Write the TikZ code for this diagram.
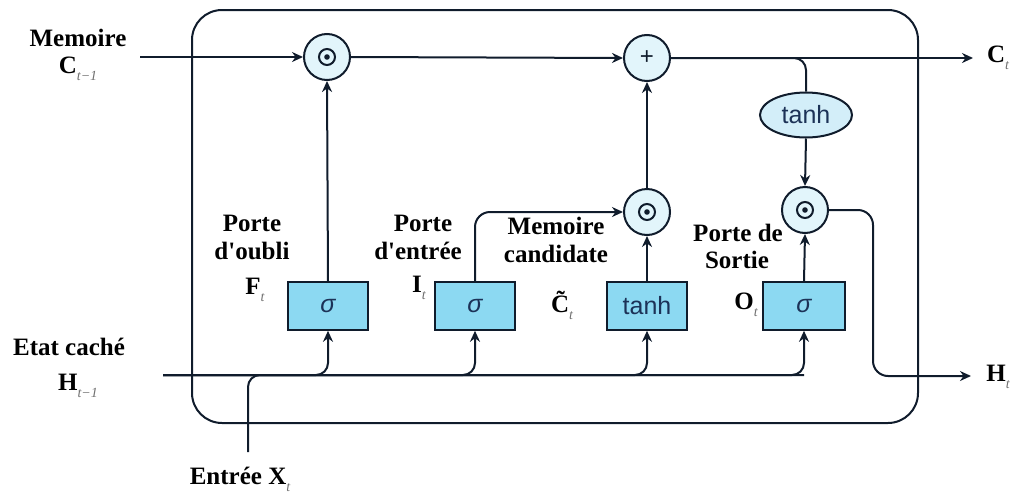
\documentclass[tikz,border=0pt]{standalone}
\usepackage{fontspec}
\setmainfont{Liberation Serif}
\newfontfamily\opfont{Liberation Sans}
\usetikzlibrary{arrows.meta,shapes.geometric}

\definecolor{boxfill}{HTML}{8CD9F2}
\definecolor{opfill}{HTML}{E2F5FB}
\definecolor{ellfill}{HTML}{D3EEF9}
\definecolor{edge}{HTML}{101C2C}
\definecolor{optext}{HTML}{1C3257}
\definecolor{subgray}{HTML}{707070}

% subscript index: small grey italic, set below the baseline
\newcommand{\idx}[1]{\raisebox{-7pt}{\fontsize{14}{14}\selectfont\mdseries\itshape\color{subgray}#1}}

\tikzset{
  wire/.style={line width=2pt, draw=edge},
  flow/.style={wire, -{Stealth[length=11pt,width=10pt]}},
  opcirc/.style={circle, draw=edge, line width=2pt, fill=opfill, minimum size=46pt, inner sep=0pt},
  gatebox/.style={rectangle, draw=edge, line width=1.6pt, fill=boxfill, minimum width=80pt, minimum height=48pt, inner sep=0pt,
    font=\opfont\fontsize{25}{25}\selectfont, text=optext},
  actell/.style={ellipse, draw=edge, line width=2pt, fill=ellfill, minimum width=92pt, minimum height=45pt, inner sep=0pt,
    font=\opfont\fontsize{25}{25}\selectfont, text=optext},
  lbl/.style={font=\fontsize{25}{28}\selectfont\bfseries, text=black, inner sep=0pt},
  frame/.style={line width=2pt, draw=edge}
}

\begin{document}
\begin{tikzpicture}[x=1pt, y=-1pt]
\useasboundingbox (0,0) rectangle (1018,501);

% cell boundary
\draw[frame, rounded corners=30pt] (192,10) rectangle (918,423);

% pointwise operators
\node[opcirc] (m1) at (327,57) {};
\node[opcirc, font=\opfont\fontsize{24}{24}\selectfont, text=edge] (add) at (647,58) {+};
\node[opcirc] (m2) at (647,212) {};
\node[opcirc] (m3) at (805,210) {};
\foreach \c in {m1,m2,m3}{
  \draw[edge, line width=2pt] (\c) circle (8pt);
  \fill[edge] (\c) circle (2.8pt);
}

% output activation
\node[actell] (th) at (806,115) {tanh};

% gates
\node[gatebox] (sf) at (328,306) {\itshape σ};
\node[gatebox] (si) at (475,306) {\itshape σ};
\node[gatebox] (sc) at (647,306) {tanh};
\node[gatebox, minimum width=82pt] (so) at (804,306) {\itshape σ};

% external ends
\coordinate (cin) at (140,57);
\coordinate (cout) at (973,58);
\coordinate (hin) at (163,375);
\coordinate (hout) at (971,376);
\coordinate (xin) at (248,452);

% cell state path
\draw[flow] (cin) -- (m1.west);
\draw[flow] (m1.east) -- (add.west);
\draw[flow] (add.east) -- (cout);
\draw[wire, rounded corners=12pt] (add.east) -| (th.north);
\draw[flow] (th.south) -- (m3.north);

% gate outputs
\draw[flow] (sf.north) -- (m1.south);
\draw[flow, rounded corners=15pt] (si.north) |- (m2.west);
\draw[flow] (sc.north) -- (m2.south);
\draw[flow] (m2.north) -- (add.south);
\draw[flow] (so.north) -- (m3.south);

% hidden state output
\draw[flow, rounded corners=15pt] (m3.east) -| ([xshift=-98pt]hout) -- (hout);

% previous hidden state and input feeding every gate
\foreach \g in {sf,si,sc,so}{
  \draw[flow, rounded corners=12pt] (hin) -| (\g.south);
}
\draw[wire, rounded corners=12pt] (xin) |- (so.south |- hin);

% labels
\node[lbl] (lmem) at (78,38) {Memoire};
\node[lbl] (lcin) at (78,69) {C\idx{t−1}};
\node[lbl] (lcout) at (998,58) {C\idx{t}};
\node[lbl] (letat) at (69,347) {Etat caché};
\node[lbl] (lhin) at (78,386) {H\idx{t−1}};
\node[lbl] (lhout) at (998,377) {H\idx{t}};
\node[lbl] (lx) at (240,479) {Entrée X\idx{t}};

\node[lbl] (lf1) at (252,223) {Porte};
\node[lbl] (lf2) at (252,251) {d\textquotesingle oubli};
\node[lbl] (lf3) at (255,290) {F\idx{t}};

\node[lbl] (li1) at (423,223) {Porte};
\node[lbl] (li2) at (418,251) {d\textquotesingle entrée};
\node[lbl] (li3) at (419,288) {I\idx{t}};

\node[lbl] (lc1) at (556,226) {Memoire};
\node[lbl] (lc2) at (556,254) {candidate};
\node[lbl] (lc3) at (562,305) {\~C\idx{t}};

\node[lbl] (lo1) at (738,233) {Porte de};
\node[lbl] (lo2) at (737,260) {Sortie};
\node[lbl] (lo3) at (746,305) {O\idx{t}};
\end{tikzpicture}
\end{document}
